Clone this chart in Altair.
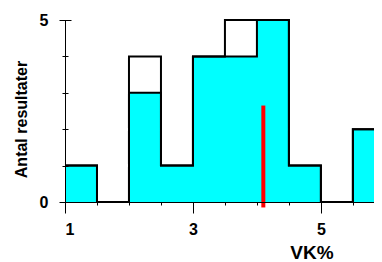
import altair as alt
import pandas as pd

# ---- data ----
bin_starts = [1.0, 1.5, 2.0, 2.5, 3.0, 3.5, 4.0, 4.5, 5.0, 5.5]
cyan_counts = [1, 0, 3, 1, 4, 4, 5, 1, 0, 2]
total_counts = [1, 0, 4, 1, 4, 5, 5, 1, 0, 2]
bin_width = 0.5
red_x = [4.1]
red_bottom = [-0.15]
red_top = [2.65]
x_domain = [1, 5.83]
y_domain = [0, 5]
x_label_values = [1, 3, 5]
x_minor_values = [1.5, 2, 2.5, 3.5, 4, 4.5, 5.5]
y_label_values = [0, 5]
y_minor_values = [1, 2, 3, 4]

FONT = "Liberation Sans"

edges = bin_starts + [bin_starts[-1] + bin_width]
steps = pd.DataFrame({
    "x": edges,
    "base": [0] * len(edges),
    "cyan": cyan_counts + [cyan_counts[-1]],
    "total": total_counts + [total_counts[-1]],
})
red = pd.DataFrame({"x": red_x, "y": red_bottom, "y2": red_top})

xs = alt.Scale(domain=x_domain, nice=False, zero=False, padding=0)
ys = alt.Scale(domain=y_domain, nice=False, zero=False, padding=0)

x_main = alt.Axis(
    orient="bottom",
    values=x_label_values, tickSize=11, tickColor="black", tickWidth=1,
    domainColor="black", domainWidth=1, grid=False,
    labelFont=FONT, labelFontSize=16, labelFontWeight="bold", labelColor="black",
    labelPadding=8, labelAngle=0,
    title="VK%", titleFont=FONT, titleFontSize=19, titleFontWeight="bold",
    titleColor="black", titleX=246.5, titleY=56, titleBaseline="alphabetic",
    titleAlign="center", zindex=1,
)
x_minor = alt.Axis(
    orient="bottom",
    values=x_minor_values, tickSize=3, tickColor="black", tickWidth=1,
    domain=False, labels=False, grid=False, title=None, zindex=1,
)
y_main = alt.Axis(
    orient="left",
    values=y_label_values, ticks=False, tickSize=0,
    domainColor="black", domainWidth=1, grid=False,
    labelFont=FONT, labelFontSize=16, labelFontWeight="bold", labelColor="black",
    labelPadding=17,
    title="Antal resultater", titleFont=FONT, titleFontSize=16,
    titleFontWeight="bold", titleColor="black", titleAngle=270,
    titleX=-39, titleY=99, titleBaseline="alphabetic", titleAlign="center",
    zindex=1,
)
y_major_ticks = alt.Axis(
    orient="left",
    values=y_label_values, tickSize=12, offset=-6, tickColor="black",
    tickWidth=1, domain=False, labels=False, grid=False, title=None, zindex=1,
)
y_minor_ticks = alt.Axis(
    orient="left",
    values=y_minor_values, tickSize=6, offset=-3, tickColor="black",
    tickWidth=1, domain=False, labels=False, grid=False, title=None, zindex=1,
)

cyan_area = alt.Chart(steps).mark_area(
    interpolate="step-after", color="#00FFFF", opacity=1
).encode(
    x=alt.X("x:Q", scale=xs, axis=x_main),
    y=alt.Y("base:Q", scale=ys, axis=y_main),
    y2="cyan:Q",
)
white_area = alt.Chart(steps).mark_area(
    interpolate="step-after", color="white", opacity=1
).encode(
    x=alt.X("x:Q", scale=xs, axis=None),
    y=alt.Y("cyan:Q", scale=ys, axis=y_major_ticks),
    y2="total:Q",
)
cyan_line = alt.Chart(steps).mark_line(
    interpolate="step-after", color="black", strokeWidth=2
).encode(
    x=alt.X("x:Q", scale=xs, axis=x_minor),
    y=alt.Y("cyan:Q", scale=ys, axis=y_minor_ticks),
)
total_line = alt.Chart(steps).mark_line(
    interpolate="step-after", color="black", strokeWidth=2
).encode(
    x=alt.X("x:Q", scale=xs, axis=None),
    y=alt.Y("total:Q", scale=ys, axis=None),
)
red_rule = alt.Chart(red).mark_rule(color="#FF0000", strokeWidth=4).encode(
    x=alt.X("x:Q", scale=xs, axis=None),
    y=alt.Y("y:Q", scale=ys, axis=None),
    y2="y2:Q",
)

chart = (
    alt.layer(cyan_area, white_area, cyan_line, total_line, red_rule)
    .resolve_axis(x="independent", y="independent")
    .properties(
        width=309, height=182,
        autosize=alt.AutoSizeParams(type="none"),
        padding={"left": 57, "top": 12, "right": 0, "bottom": 60},
        background="white",
    )
    .configure_view(stroke=None)
)

chart.save("out.html", embed_options={"renderer": "svg", "actions": False})
